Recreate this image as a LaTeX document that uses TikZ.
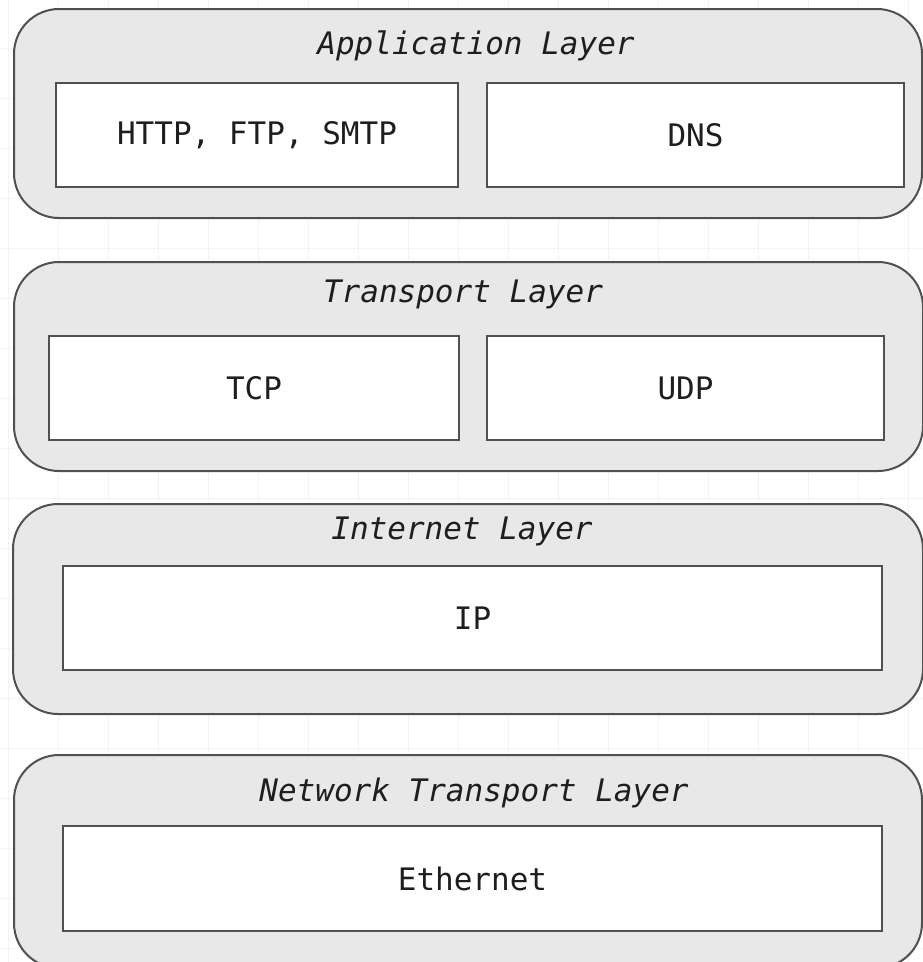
\documentclass[tikz,border=0pt]{standalone}
\usepackage{fontspec}
\setmonofont{DejaVu Sans Mono}
\definecolor{layerfill}{HTML}{E8E8E8}
\definecolor{edge}{HTML}{505050}
\definecolor{ink}{HTML}{1E1E1E}
\definecolor{gridline}{HTML}{F4F4EE}
\begin{document}
\begin{tikzpicture}[x=1pt,y=-1pt,
  layerbox/.style={draw=edge,fill=layerfill,line width=2pt,rounded corners=45pt},
  protobox/.style={draw=edge,fill=white,line width=2.2pt,inner sep=0pt,
    text=ink,font=\fontsize{31}{36}\selectfont\ttfamily},
  layertitle/.style={text=ink,inner sep=0pt,
    font=\fontsize{31}{36}\selectfont\ttfamily\itshape}]
\useasboundingbox (0,0) rectangle (923,962);
\clip (0,0) rectangle (923,962);
\fill[white] (0,0) rectangle (923,962);
% faint background grid
\foreach \gx in {8,58,...,908} \draw[gridline,line width=0.8pt] (\gx,0) -- (\gx,962);
\foreach \gy in {-2,48,...,948} \draw[gridline,line width=0.8pt] (0,\gy) -- (923,\gy);

% Application layer
\draw[layerbox] (14,9) rectangle (922,218);
\node[layertitle] (apptitle) at (476,46) {Application Layer};
\node[protobox,minimum width=402pt,minimum height=104pt] (http) at (257,135) {HTTP, FTP, SMTP};
\node[protobox,minimum width=417pt,minimum height=104pt] (dns) at (695.5,135) {DNS};

% Transport layer
\draw[layerbox] (14,262) rectangle (923,471);
\node[layertitle] (transtitle) at (463,294) {Transport Layer};
\node[protobox,minimum width=410pt,minimum height=104pt] (tcp) at (254,388) {TCP};
\node[protobox,minimum width=397pt,minimum height=104pt] (udp) at (685.5,388) {UDP};

% Internet layer
\draw[layerbox] (13,504) rectangle (923,714);
\node[layertitle] (nettitle) at (462,531) {Internet Layer};
\node[protobox,minimum width=819pt,minimum height=104pt] (ip) at (472.5,618) {IP};

% Network transport layer
\draw[layerbox] (14,755) rectangle (922,968);
\node[layertitle] (linktitle) at (474,793) {Network Transport Layer};
\node[protobox,minimum width=819pt,minimum height=105pt] (eth) at (472.5,878.5) {Ethernet};
\end{tikzpicture}
\end{document}
